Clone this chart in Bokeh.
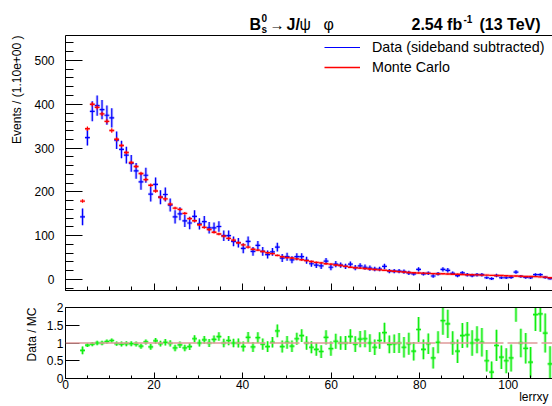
import numpy as np
from bokeh.plotting import figure
from bokeh.layouts import column
from bokeh.models import (ColumnDataSource, Range1d, SingleIntervalTicker, FixedTicker,
                          LinearAxis, Label, Legend, LegendItem, Span, NumeralTickFormatter, Title)
from bokeh.embed import file_html
from bokeh.resources import INLINE

# ---------------- data ----------------
x_min, x_max, n_bins = 0.0, 110.0, 100
first_bin = 3  # first filled bin index

data_vals = [143, 324, 384, 397, 388, 375, 369, 318, 297, 284,
             265, 248, 223, 238, 195, 217, 188, 194, 170, 143,
             150, 134, 129, 144, 127, 132, 118, 118, 121, 100,
             100, 87, 84, 71, 87, 64, 78, 64, 57, 63,
             74, 49, 52, 45, 52, 52, 44, 36, 33, 31,
             42, 28, 35, 33, 30, 35, 27, 31, 28, 26,
             24, 24, 30, 19, 19, 19, 18, 15, 13, 23,
             13, 14, 8, 13, 23, 21, 14, 9, 15, 11,
             9, 11, 11, 4, 2, 9, 4, 4, 5, 17,
             7, 5, 4, 11, 11, 5, 2]
data_err = [19, 18, 23, 23, 22, 22, 22, 20, 20, 19,
            19, 18, 18, 17, 17, 16, 16, 16, 15, 15,
            15, 14, 14, 14, 13, 13, 13, 12, 12, 12,
            12, 11, 11, 11, 11, 10, 10, 10, 9, 9,
            10, 9, 9, 8, 8, 8, 8, 7, 7, 7,
            7, 7, 7, 6, 6, 6, 6, 6, 6, 6,
            5, 5, 6, 5, 5, 5, 5, 5, 4, 5,
            4, 4, 4, 4, 5, 5, 4, 4, 4, 4,
            4, 4, 4, 3, 3, 4, 3, 3, 3, 4,
            3, 3, 3, 3, 3, 3, 2]
mc_vals = [179, 344, 400, 393, 378, 361, 340, 320, 306, 290,
           267, 258, 242, 228, 215, 202, 188, 184, 172, 163,
           160, 151, 139, 134, 125, 119, 114, 108, 104, 99,
           94, 90, 84, 79, 74, 69, 67, 64, 61, 59,
           55, 52, 50, 49, 47, 45, 43, 41, 39, 38,
           36, 35, 33, 32, 30, 28, 27, 26, 25, 24,
           23, 22, 21, 20, 19, 18, 17, 16, 15.5, 15,
           14.5, 14, 13.5, 13, 13, 12.5, 12, 12, 11.5, 11,
           11, 10.5, 10, 10, 9.5, 9, 9, 8.5, 8, 8,
           7.5, 7, 7, 6.5, 6, 5.5, 4]
mc_err = [4, 5, 5, 5, 5, 5, 5, 5, 4, 4,
          4, 4, 4, 4, 4, 4, 4, 4, 4, 3,
          3, 3, 3, 3, 3, 3, 3, 3, 3, 3,
          3, 3, 3, 3, 3, 2, 2, 2, 2, 2,
          2, 2, 2, 2, 2, 2, 2, 2, 2, 2,
          2, 2, 2, 2, 2, 2, 2, 2, 1.5, 1.5,
          1.5, 1.5, 1.5, 1.5, 1.5, 1.5, 1.5, 1.5, 1.5, 1.5,
          1.5, 1.5, 1.5, 1.5, 1, 1, 1, 1, 1, 1,
          1, 1, 1, 1, 1, 1, 1, 1, 1, 1,
          1, 1, 1, 1, 1, 1, 1]
ratio_vals = [0.79, 0.94, 0.97, 1.00, 1.00, 1.04, 1.07, 0.98, 0.97, 0.98,
              0.98, 0.97, 0.91, 1.03, 0.89, 1.06, 0.98, 1.02, 0.99, 0.86,
              0.95, 0.86, 0.90, 1.12, 1.00, 1.09, 1.00, 1.10, 1.18, 1.00,
              1.07, 1.00, 1.00, 0.90, 1.16, 0.89, 1.15, 0.97, 0.90, 1.02,
              1.34, 0.90, 1.02, 0.91, 1.12, 1.21, 1.00, 0.88, 0.82, 0.76,
              1.16, 0.84, 1.05, 1.00, 1.00, 1.18, 0.97, 1.11, 1.12, 1.00,
              0.88, 1.07, 1.29, 0.96, 0.98, 1.00, 0.88, 0.98, 0.77, 1.38,
              0.82, 0.98, 0.58, 1.02, 1.63, 1.54, 1.00, 0.77, 1.21, 1.23,
              1.00, 1.09, 1.02, 0.50, 0.18, 0.93, 0.60, 0.50, 0.58, 2.10,
              1.00, 0.85, 0.46, 1.80, 1.82, 1.28, 0.41]
ratio_err = [0.11, 0.05, 0.06, 0.06, 0.06, 0.06, 0.06, 0.06, 0.07, 0.07,
             0.07, 0.07, 0.07, 0.07, 0.08, 0.08, 0.08, 0.09, 0.09, 0.09,
             0.09, 0.09, 0.10, 0.10, 0.10, 0.11, 0.11, 0.11, 0.12, 0.12,
             0.13, 0.12, 0.13, 0.14, 0.15, 0.14, 0.15, 0.16, 0.15, 0.15,
             0.18, 0.17, 0.18, 0.16, 0.17, 0.18, 0.19, 0.17, 0.18, 0.18,
             0.20, 0.20, 0.21, 0.19, 0.20, 0.21, 0.22, 0.23, 0.24, 0.25,
             0.22, 0.23, 0.28, 0.25, 0.26, 0.28, 0.29, 0.31, 0.26, 0.35,
             0.28, 0.29, 0.30, 0.31, 0.40, 0.40, 0.33, 0.33, 0.35, 0.36,
             0.36, 0.38, 0.40, 0.30, 0.30, 0.44, 0.33, 0.35, 0.38, 0.50,
             0.40, 0.43, 0.43, 0.46, 0.50, 0.55, 0.50]

x_title = "lerrxy"
y_title = "Events / (1.10e+00 )"
ratio_title = "Data / MC"
legend_labels = ["Data (sideband subtracted)", "Monte Carlo"]

# ---------------- derived columns ----------------
bw = (x_max - x_min) / n_bins
idx = np.arange(first_bin, first_bin + len(data_vals))
xc = x_min + (idx + 0.5) * bw
d = np.array(data_vals, float); de = np.array(data_err, float)
m = np.array(mc_vals, float); me = np.array(mc_err, float)
r = np.array(ratio_vals, float); re = np.array(ratio_err, float)
src = ColumnDataSource(dict(xc=xc, xlo=xc - bw / 2, xhi=xc + bw / 2,
                            d=d, dlo=d - de, dhi=d + de,
                            m=m, mlo=m - me, mhi=m + me,
                            r=r, rlo=r - re, rhi=r + re))

FONT = "Liberation Sans"
W = 552
L = 64
H0 = 35            # title strip
FH1, B1 = 255, 8   # main frame height, bottom border
TOP2, FH2 = 9, 71
H2 = 406 - H0 - (FH1 + B1)
B2 = H2 - TOP2 - FH2


def style_axis(ax, tick_in, minor_in, standoff, label_size="12px"):
    ax.axis_line_color = "black"
    ax.axis_line_width = 1
    ax.major_tick_in = tick_in
    ax.major_tick_out = 0
    ax.minor_tick_in = minor_in
    ax.minor_tick_out = 0
    ax.major_tick_line_color = "black"
    ax.minor_tick_line_color = "black"
    ax.major_label_standoff = standoff
    ax.major_label_text_font = FONT
    ax.major_label_text_font_size = label_size
    ax.major_label_text_color = "black"


def add_top_border(p):
    top = LinearAxis(ticker=FixedTicker(ticks=[]), major_label_text_font_size="0px",
                     major_label_text_color=None,
                     major_tick_line_color=None, minor_tick_line_color=None,
                     major_tick_in=0, major_tick_out=0, minor_tick_in=0, minor_tick_out=0,
                     major_label_standoff=0,
                     axis_line_color="black", axis_line_width=1)
    p.add_layout(top, "above")


# ---------------- title strip (its frame starts at x = L) ----------------
p0 = figure(width=W, height=H0, x_range=Range1d(0, 1), y_range=Range1d(0, 1),
            output_backend="svg", toolbar_location=None,
            x_axis_location=None, y_axis_location=None,
            min_border_left=0, min_border_right=0, min_border_top=0, min_border_bottom=0)
p0.xgrid.visible = False
p0.ygrid.visible = False
p0.outline_line_color = None


def tlab(px, py_base, text, size, bold=False):
    # py_base: page y of the text baseline; placed by its middle
    mid = py_base - 0.32 * size
    p0.add_layout(Label(x=px - L, y=H0 - mid, x_units="screen", y_units="screen", text=text,
                        text_font=FONT, text_font_size=f"{size}px",
                        text_font_style="bold" if bold else "normal",
                        text_align="left", text_baseline="middle", text_color="black"))


tlab(248, 29, "B", 16, True)
tlab(260, 32, "s", 10, True)
tlab(260, 21, "0", 10, True)
tlab(268, 29, "\u2192", 15)
tlab(285, 29, "J/", 16, True)
tlab(298, 29, "\u03c8", 16)
tlab(322, 29, "\u03c6", 16)
tlab(410, 29, "2.54 fb", 16, True)
tlab(462, 22, "-1", 10, True)
tlab(478, 29, "(13 TeV)", 16, True)

# ---------------- main panel ----------------
p1 = figure(width=W, height=FH1 + B1, x_range=Range1d(x_min, x_max), y_range=Range1d(-25.1, 557),
            output_backend="svg", toolbar_location=None,
            min_border_left=L, min_border_right=0, min_border_top=0,
            min_border_bottom=B1)
p1.xgrid.visible = False
p1.ygrid.visible = False
p1.outline_line_color = None

p1.yaxis.ticker = SingleIntervalTicker(interval=100, num_minor_ticks=5)
style_axis(p1.yaxis[0], 17, 8, 11)
p1.xaxis.ticker = SingleIntervalTicker(interval=20, num_minor_ticks=4)
style_axis(p1.xaxis[0], 7, 4, 0, "0px")
p1.xaxis.major_label_text_color = None   # ticks only, no labels on the upper panel
add_top_border(p1)
p1.add_layout(Title(text=y_title, align="right", vertical_align="bottom", offset=0, standoff=15,
                    text_font=FONT, text_font_size="12px", text_font_style="normal",
                    text_color="black"), "left")

blue, red = "#0000ff", "#ff0000"
p1.segment("xlo", "d", "xhi", "d", source=src, line_color=blue, line_width=3, line_alpha=0.2)
p1.segment("xc", "dlo", "xc", "dhi", source=src, line_color=blue, line_width=3, line_alpha=0.2)
d_h = p1.segment("xlo", "d", "xhi", "d", source=src, line_color=blue, line_width=1.2)
p1.segment("xc", "dlo", "xc", "dhi", source=src, line_color=blue, line_width=1.2)
p1.segment("xlo", "m", "xhi", "m", source=src, line_color=red, line_width=3, line_alpha=0.2)
m_h = p1.segment("xlo", "m", "xhi", "m", source=src, line_color=red, line_width=1.4)
p1.segment("xc", "mlo", "xc", "mhi", source=src, line_color=red, line_width=1.2)

legend = Legend(items=[LegendItem(label=legend_labels[0], renderers=[d_h]),
                       LegendItem(label=legend_labels[1], renderers=[m_h])],
                location=(323 - L, FH1 - (77 - H0)),
                glyph_width=36, glyph_height=20, label_height=20, label_standoff=12,
                spacing=0, padding=0, margin=0, border_line_color=None,
                background_fill_alpha=0, label_text_font=FONT, label_text_font_size="14.3px",
                label_text_color="black")
p1.add_layout(legend)

# ---------------- ratio panel ----------------
p2 = figure(width=W, height=H2, x_range=p1.x_range, y_range=Range1d(0, 2),
            output_backend="svg", toolbar_location=None,
            min_border_left=L, min_border_right=0, min_border_top=TOP2,
            min_border_bottom=B2)
p2.xgrid.visible = False
p2.ygrid.visible = False
p2.outline_line_color = None
p2.yaxis.ticker = FixedTicker(ticks=[0, 0.5, 1, 1.5, 2], minor_ticks=[])
p2.yaxis.formatter = NumeralTickFormatter(format="0.[0]")
style_axis(p2.yaxis[0], 14, 0, 2)
p2.xaxis.ticker = SingleIntervalTicker(interval=20, num_minor_ticks=4)
style_axis(p2.xaxis[0], 6, 3, 1)
add_top_border(p2)
p2.add_layout(Title(text=ratio_title, align="right", vertical_align="bottom", offset=0, standoff=9,
                    text_font=FONT, text_font_size="12px", text_font_style="normal",
                    text_color="black"), "left")
p2.add_layout(Title(text=x_title, align="right", vertical_align="top", offset=4, standoff=-3,
                    text_font=FONT, text_font_size="12px", text_font_style="normal",
                    text_color="black"), "below")

p2.add_layout(Span(location=1, dimension="width", line_color="#e09a9a", line_width=1.6,
                   line_dash="30 4"))
green = "#11ee11"
p2.segment("xlo", "r", "xhi", "r", source=src, line_color=green, line_width=3, line_alpha=0.35)
p2.segment("xc", "rlo", "xc", "rhi", source=src, line_color=green, line_width=3, line_alpha=0.35)
p2.segment("xlo", "r", "xhi", "r", source=src, line_color=green, line_width=1.2)
p2.segment("xc", "rlo", "xc", "rhi", source=src, line_color=green, line_width=1.2)

layout = column(p0, p1, p2, spacing=0)
open("out.html", "w").write(file_html(layout, INLINE))
